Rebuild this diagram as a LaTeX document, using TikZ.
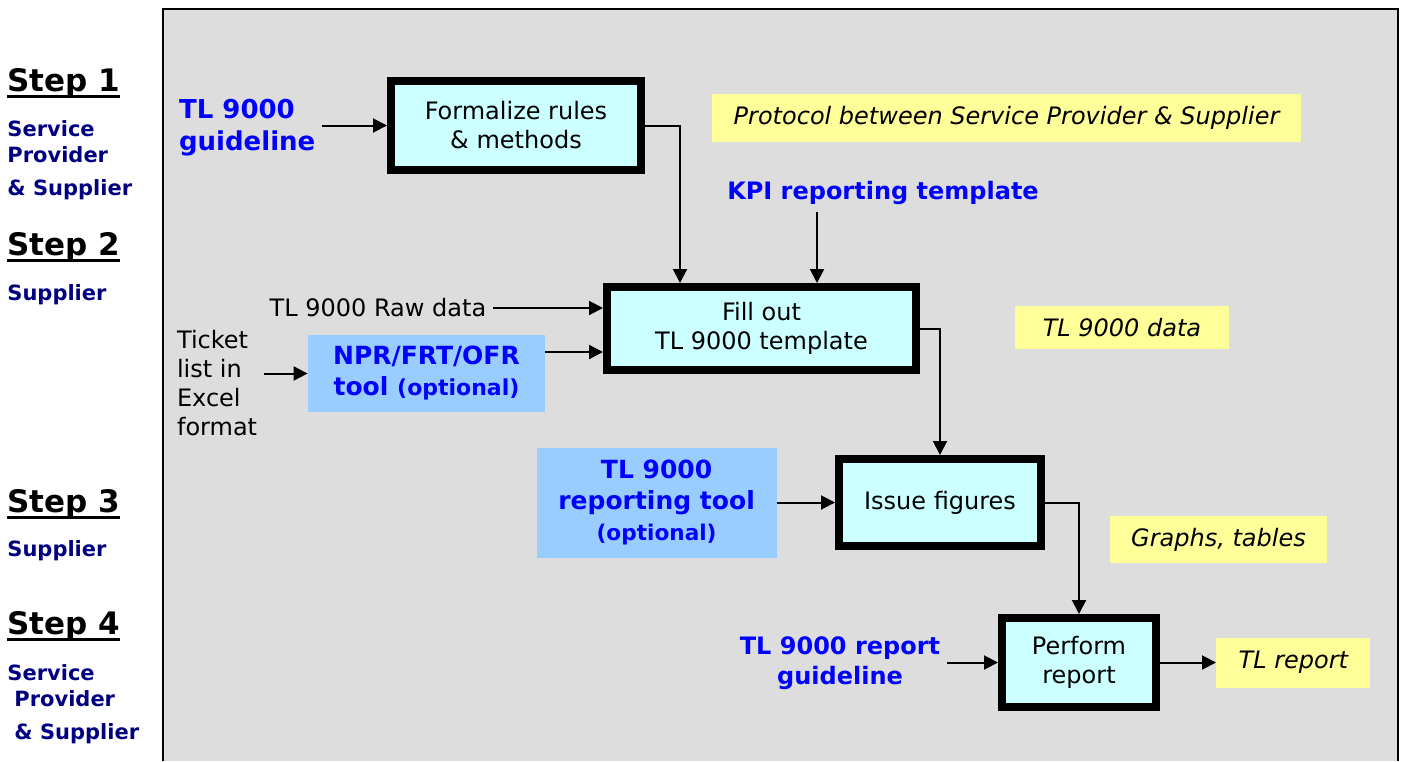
\documentclass[tikz,border=0pt]{standalone}
\usepackage{fontspec}
\setmainfont{DejaVu Sans}
\usetikzlibrary{arrows.meta, positioning, calc}

\definecolor{procfill}{RGB}{204,255,255}
\definecolor{toolfill}{RGB}{153,204,255}
\definecolor{notefill}{RGB}{255,255,153}
\definecolor{panelgray}{RGB}{221,221,221}
\definecolor{partyblue}{RGB}{0,0,128}

\newcommand{\bodysz}{\fontsize{12}{14.5}\selectfont}
\newcommand{\ulstep}[1]{\setbox0=\hbox{#1}\rlap{\rule[-3.25pt]{\wd0}{1.5pt}}\box0}

\begin{document}
\begin{tikzpicture}[
    x=0.5pt, y=-0.5pt,
    proc/.style={rectangle, draw=black, line width=4pt, fill=procfill, align=center, inner sep=0pt, outer sep=2pt, font=\bodysz},
    tool/.style={rectangle, fill=toolfill, align=center, inner sep=0pt, text=blue, font=\bfseries\fontsize{12.5}{15.5}\selectfont},
    note/.style={rectangle, fill=notefill, inner sep=0pt, font=\itshape\bodysz},
    lbl/.style={align=left, font=\bodysz},
    keylbl/.style={align=center, text=blue, font=\bfseries\fontsize{12}{15}\selectfont},
    steplbl/.style={anchor=base west, inner sep=0pt, font=\bfseries\fontsize{15.5}{18}\selectfont},
    party/.style={anchor=base west, inner sep=0pt, text=partyblue, font=\bfseries\fontsize{10.5}{12}\selectfont},
    arrow/.style={-{Triangle[length=7pt,width=7pt]}, line width=1pt}
]

\useasboundingbox (0,0) rectangle (1402,761);

% Panel
\fill[panelgray] (163,9) rectangle (1398,761);
\draw[line width=1pt] (163,761) |- (1398,9) -- (1398,761);

% Steps
\node[steplbl] (step1) at (7,91) {\ulstep{Step 1}};
\node[party] (s1a) at (7,136) {Service};
\node[party] (s1b) at (7,162) {Provider};
\node[party] (s1c) at (7,195) {\& Supplier};
\node[steplbl] (step2) at (7,255) {\ulstep{Step 2}};
\node[party] (s2a) at (7,300) {Supplier};
\node[steplbl] (step3) at (7,512) {\ulstep{Step 3}};
\node[party] (s3a) at (7,556) {Supplier};
\node[steplbl] (step4) at (7,634) {\ulstep{Step 4}};
\node[party] (s4a) at (7,680) {Service};
\node[party] (s4b) at (14,706) {Provider};
\node[party] (s4c) at (14,739) {\& Supplier};

% Process boxes
\node[proc, minimum width=125pt, minimum height=44.5pt] (form) at (516,125.5) {Formalize rules\\\& methods};
\node[proc, minimum width=154.5pt, minimum height=41.5pt] (fill) at (761.5,328.5) {Fill out\\TL 9000 template};
\node[proc, minimum width=101pt, minimum height=43.5pt] (issue) at (940,502.5) {Issue figures};
\node[proc, minimum width=77pt, minimum height=44.5pt] (perform) at (1079,662.5) {Perform\\report};

% Tools
\node[tool, minimum width=118.5pt, minimum height=38.5pt] (npr) at (426.5,373.5) {NPR/FRT/OFR\\tool {\fontsize{11}{15.5}\selectfont(optional)}};
\node[tool, minimum width=120pt, minimum height=55pt, left=29pt of issue] (rtool) {TL 9000\\reporting tool\\{\fontsize{10.8}{15}\selectfont(optional)}};

% Outputs
\node[note, minimum width=294.5pt, minimum height=24pt] (proto) at (1006.5,118) {Protocol between Service Provider \& Supplier};
\node[note, minimum width=107pt, minimum height=21.5pt] (tldata) at (1122,327.5) {TL 9000 data};
\node[note, minimum width=108.5pt, minimum height=23.5pt] (graphs) at (1218.5,539.5) {Graphs, tables};
\node[note, minimum width=77pt, minimum height=25pt, right=28pt of perform] (trep) {TL report};

% Inputs
\node[keylbl, align=left, anchor=west, font=\bfseries\fontsize{13}{16}\selectfont] (guide) at (172,128) {TL 9000\\guideline};
\node[keylbl] (kpi) at (883,193) {KPI reporting template};
\node[lbl] (raw) at (378,308) {TL 9000 Raw data};
\node[lbl, anchor=west] (ticket) at (170,383.5) {Ticket\\list in\\Excel\\format};
\node[keylbl] (repguide) at (840,663) {TL 9000 report\\guideline};

\coordinate (kpiin) at ([xshift=27.75pt]fill.north);
\coordinate (nprout) at ([yshift=10.75pt]npr.east);

% Arrows
\draw[arrow] (guide.east |- form.west) -- (form.west);
\draw[arrow] (form.east) -| ([xshift=38.5pt]fill.north west);
\draw[arrow] (kpi.south -| kpiin) -- (kpiin);
\draw[arrow] (raw.east) -- (raw.east -| fill.west);
\draw[arrow] (nprout) -- (nprout -| fill.west);
\draw[arrow] (ticket.east |- npr.west) -- (npr.west);
\draw[arrow] (fill.east) -| (issue.north);
\draw[arrow] (rtool.east) -- (issue.west);
\draw[arrow] (issue.east) -| (perform.north);
\draw[arrow] (repguide.east |- perform.west) -- (perform.west);
\draw[arrow] (perform.east) -- (trep.west);

\end{tikzpicture}
\end{document}
